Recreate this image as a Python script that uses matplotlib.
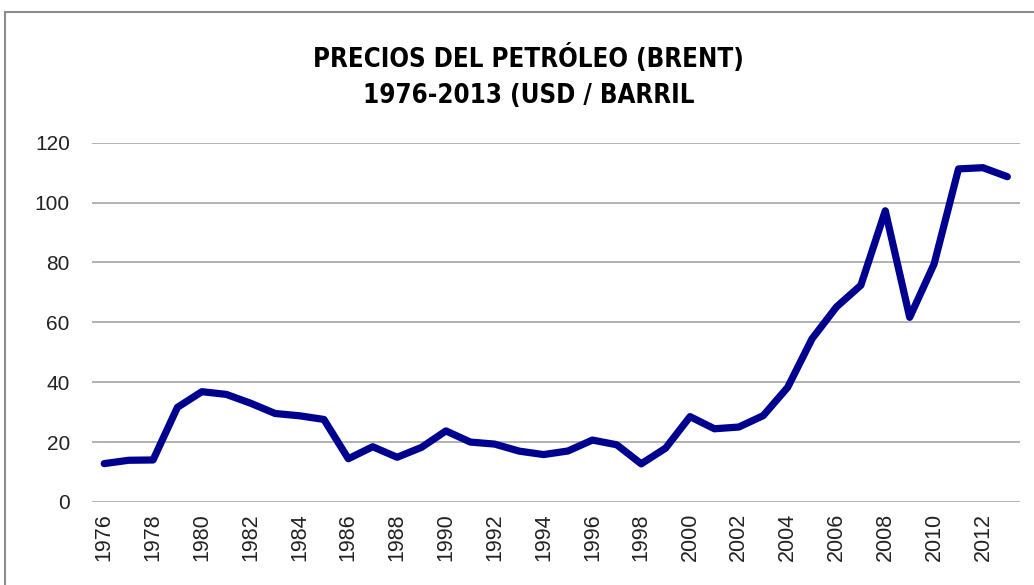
import matplotlib
matplotlib.use("Agg")
import matplotlib.pyplot as plt
from matplotlib.patches import Rectangle

# Precio medio anual del Brent (USD / barril)
anios = list(range(1976, 2014))
precios = [12.80, 13.92, 14.02, 31.61, 36.83, 35.93, 32.97, 29.55, 28.78, 27.56,
           14.43, 18.44, 14.92, 18.23, 23.73, 20.00, 19.32, 16.97, 15.82, 17.02,
           20.67, 19.09, 12.72, 17.97, 28.50, 24.44, 25.02, 28.83, 38.27, 54.52,
           65.14, 72.39, 97.26, 61.67, 79.50, 111.26, 111.67, 108.66]
ticks_x = list(range(1976, 2013, 2))
ticks_y = [0, 20, 40, 60, 80, 100, 120]
titulo = "PRECIOS DEL PETRÓLEO (BRENT)\n1976-2013 (USD / BARRIL"

plt.rcParams["font.family"] = ["Liberation Sans", "DejaVu Sans"]

fig = plt.figure(figsize=(10.34, 5.85), dpi=100)
ax = fig.add_axes([0.089, 0.142, 0.897, 0.614])

# Marco gris alrededor del gráfico
fig.patches.append(Rectangle((5 / 1034, -0.05), 1.1, 1 - 12 / 585 + 0.05,
                             transform=fig.transFigure, fill=False,
                             edgecolor="#8c8c8c", linewidth=1.5))

ax.plot(anios, precios, color="#00008f", linewidth=5.2,
        solid_capstyle="round", solid_joinstyle="round", zorder=3)

ax.set_xlim(1975.5, 2013.5)
ax.set_ylim(0, 120)
ax.set_yticks(ticks_y)
ax.set_xticks(ticks_x)
ax.set_xticklabels([str(a) for a in ticks_x], rotation=90)
ax.grid(axis="y", color="#a6a6a6", linewidth=1.2)
ax.set_axisbelow(True)
for lado in ax.spines.values():
    lado.set_visible(False)
ax.tick_params(axis="y", length=0, pad=16, labelsize=15, labelcolor="#222222")
ax.tick_params(axis="x", length=0, pad=8, labelsize=15.5, labelcolor="#222222")

fig.text(0.511, 0.869, titulo, ha="center", va="center", fontsize=18.5,
         fontweight="bold", fontstretch="condensed", linespacing=1.5,
         family=["DejaVu Sans"])

fig.savefig("out.png", dpi=100)
